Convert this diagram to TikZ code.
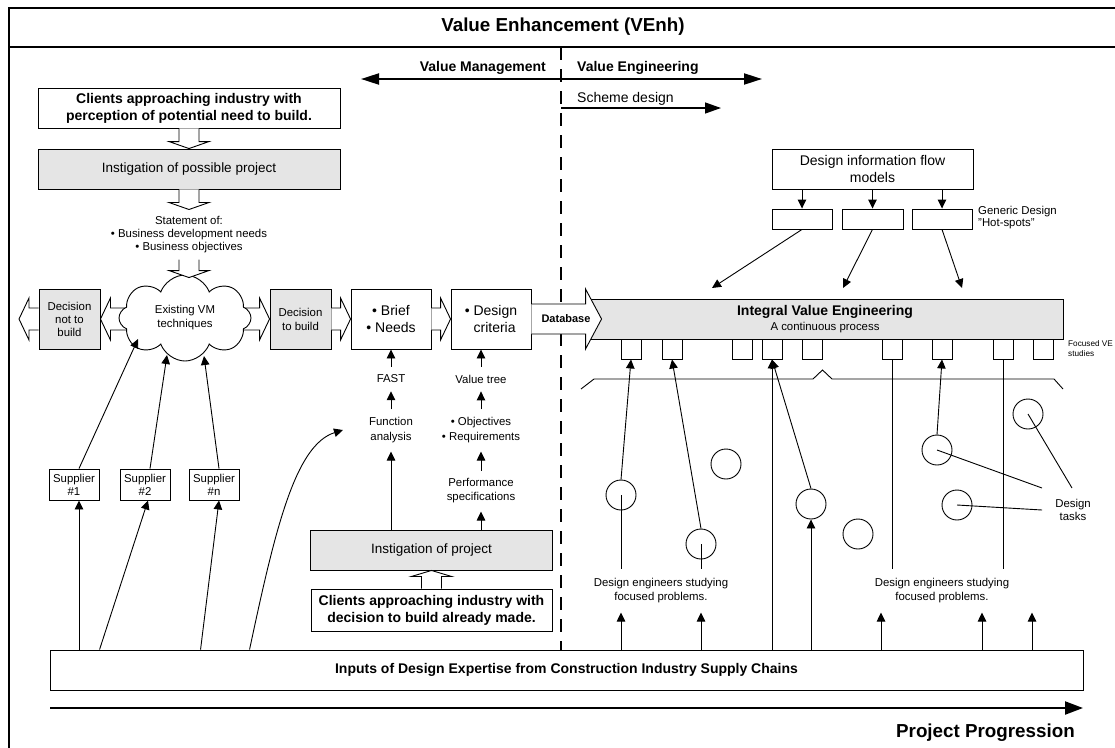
\documentclass[tikz,border=0pt]{standalone}
\usepackage{fontspec}
\setmainfont{Liberation Sans}
\usetikzlibrary{arrows.meta,positioning,calc,shapes.symbols,backgrounds}
\definecolor{boxgrey}{RGB}{229,229,229}
% hollow block arrows: #1 = start of shaft, #2 = tip
\newcommand{\blkdown}[2]{\draw[blk] ($(#1)+(-10,0)$) -- ($(#2)+(-10,-7)$) -- ($(#2)+(-20,-7)$) -- (#2) -- ($(#2)+(20,-7)$) -- ($(#2)+(10,-7)$) -- ($(#1)+(10,0)$);}
\newcommand{\blkup}[2]{\draw[blk] ($(#1)+(-10,0)$) -- ($(#2)+(-10,6)$) -- ($(#2)+(-20,6)$) -- (#2) -- ($(#2)+(20,6)$) -- ($(#2)+(10,6)$) -- ($(#1)+(10,0)$);}
\newcommand{\blkright}[2]{\draw[blk] ($(#1)+(0,-11)$) -- ($(#2)+(-10,-11)$) -- ($(#2)+(-10,-21)$) -- (#2) -- ($(#2)+(-10,21)$) -- ($(#2)+(-10,11)$) -- ($(#1)+(0,11)$);}
\newcommand{\blkleft}[2]{\draw[blk] ($(#1)+(0,-11)$) -- ($(#2)+(10,-11)$) -- ($(#2)+(10,-21)$) -- (#2) -- ($(#2)+(10,21)$) -- ($(#2)+(10,11)$) -- ($(#1)+(0,11)$);}

\begin{document}
\begin{tikzpicture}[x=1pt,y=-1pt,
  box/.style={draw,line width=0.9pt,inner sep=0pt,align=center},
  gbox/.style={box,fill=boxgrey},
  lab/.style={font=\fontsize{11.4}{13.5}\selectfont,align=center,inner sep=0pt},
  big/.style={font=\fontsize{14}{17}\selectfont},
  bbig/.style={font=\fontsize{14}{17}\selectfont\bfseries},
  blk/.style={draw,line width=0.9pt,fill=white,line join=miter},
  arr/.style={line width=0.9pt,-{Triangle[length=9pt,width=8.5pt]}},
  ln/.style={line width=0.9pt},
  task/.style={circle,draw,line width=0.9pt,minimum size=30pt,inner sep=0pt}]
\useasboundingbox (0,0) rectangle (1115,747);
\clip (0,0) rectangle (1115,747);

%% frame and title
\draw[line width=1.2pt] (9,760) -- (9,8) -- (1130,8);
\draw[line width=1.2pt] (9,47) -- (1130,47);
\node[font=\fontsize{18.8}{20}\selectfont\bfseries] (ttl) at (563,27) {Value Enhancement (VEnh)};

%% phases
\coordinate (divT) at (561,47);
\coordinate (divB) at (561,650);
\draw[line width=2pt,dash pattern=on 13pt off 9pt] (divT) -- (divB);
\coordinate (vmEnd) at (361,79);
\coordinate (veEnd) at (762,79);
\draw[line width=2pt,{Triangle[length=18pt,width=11pt]}-{Triangle[length=18pt,width=11pt]}] (vmEnd) -- (veEnd);
\node[bbig,inner sep=0pt,anchor=east] (vmlab) at (546,68) {Value Management};
\node[bbig,inner sep=0pt,anchor=west] (velab) at (577,68) {Value Engineering};
\coordinate (sdEnd) at (721,108);
\draw[line width=1.3pt,-{Triangle[length=16pt,width=11pt]}] (divT |- sdEnd) -- (sdEnd);
\node[big,inner sep=0pt,anchor=west] (sdlab) at (577,99) {Scheme design};

%% possible project
\node[box,bbig,minimum width=302,minimum height=40] (clientsA) at (189,108) {Clients approaching industry with\\perception of potential need to build.};
\node[gbox,font=\fontsize{13.5}{16}\selectfont,minimum width=302,minimum height=40] (instA) at (189,169) {Instigation of possible project};
\node[lab,font=\fontsize{11.4}{13}\selectfont] (stmt) at (189,235) {Statement of:\\\textbullet\ Business development needs\\\textbullet\ Business objectives};
\coordinate (stmtIn) at ($(stmt.north)+(0,-7)$);
\coordinate (stmtOut) at ($(stmt.south)+(0,6)$);
\blkdown{clientsA.south}{instA.north}
\blkdown{instA.south}{stmtIn}

%% decision row
\node[gbox,lab,font=\fontsize{11.4}{13}\selectfont,minimum width=61,minimum height=60] (notbuild) at (69.5,319) {Decision\\not to\\build};
\node[cloud,draw,fill=white,line width=0.9pt,cloud puffs=8,cloud puff arc=140,cloud ignores aspect,minimum width=132,minimum height=86,lab,font=\fontsize{11.4}{14}\selectfont] (vm) at (185,318) {Existing VM\\techniques};
\node[gbox,lab,font=\fontsize{11.4}{14}\selectfont,minimum width=61,minimum height=60] (build) at (300.5,319) {Decision\\to build};
\node[box,big,minimum width=80,minimum height=60] (brief) at (391,319) {\textbullet\ Brief\\\textbullet\ Needs};
\node[box,big,minimum width=80,minimum height=60,align=left] (crit) at (491,319) {\textbullet\ Design\\\phantom{\textbullet\ }criteria};
\coordinate (outL) at (19,319);
\coordinate (vmIn) at ($(stmtOut |- vm.north)+(0,3)$);
\blkleft{notbuild.west}{outL}
\begin{scope}[on background layer]
  \blkleft{vm.center |- notbuild.east}{notbuild.east}
  \blkright{vm.center |- build.west}{build.west}
\end{scope}
\blkright{build.east}{brief.west}
\blkright{brief.east}{crit.west}
\blkdown{stmtOut}{vmIn}

%% integral value engineering
\node[gbox,font=\fontsize{14}{15}\selectfont,minimum width=476,minimum height=40] (ive) at (825,319) {\textbf{Integral Value Engineering}\\{\fontsize{11.4}{15}\selectfont A continuous process}};
\coordinate (dbTip) at ($(ive.west)+(15,0)$);
\draw[blk] ($(crit.east)+(0,-15)$) -- ($(dbTip)+(-16,-15)$) -- ($(dbTip)+(-16,-30)$) -- (dbTip) -- ($(dbTip)+(-16,30)$) -- ($(dbTip)+(-16,15)$) -- ($(crit.east)+(0,15)$);
\node[font=\fontsize{11}{12}\selectfont\bfseries,inner sep=0pt] (dblab) at (566,319) {Database};

%% hot-spots
\node[box,big,minimum width=201,minimum height=40] (dif) at (872.5,169) {Design information flow\\models};
\node[box,minimum width=60,minimum height=20] (hs1) at (802,219) {};
\node[box,minimum width=61,minimum height=20] (hs2) at (872.5,219) {};
\node[box,minimum width=60,minimum height=20] (hs3) at (942,219) {};
\foreach \h in {hs1,hs2,hs3} \draw[arr] (dif.south -| \h.north) -- (\h.north);
\node[lab,anchor=west,align=left,font=\fontsize{11.4}{12}\selectfont] (hslab) at (978,218) {Generic Design\\"Hot-spots"};
\coordinate (hot1) at (712,288);
\coordinate (hot2) at (843,288);
\coordinate (hot3) at (962,288);
\draw[arr] (hs1.south) -- (hot1);
\draw[arr] (hs2.south) -- (hot2);
\draw[arr] (hs3.south) -- (hot3);

%% focused studies
\foreach \i/\x in {1/631,2/672,3/742,4/772,5/812,6/892.5,7/942,8/1003,9/1043}
  \node[box,minimum width=20,minimum height=20] (fs\i) at (\x,349) {};
\node[lab,anchor=west,align=left,font=\fontsize{8.2}{10}\selectfont] (fslab) at (1068,349) {Focused VE\\studies};
\draw[ln] (581,389) -- (594,379) -- (813,379) -- (822.5,370) -- (832,379) -- (1054,379) -- (1063,389);

%% design tasks
\foreach \n/\x/\y in {1/621/495,2/701/544,3/726/464,4/811/504,5/858/534,6/937/450,7/957/505,8/1028/414}
  \node[task] (c\n) at (\x,\y) {};
\node[lab,inner ysep=9pt,font=\fontsize{11.4}{14}\selectfont] (deA) at (661,591) {Design engineers studying\\focused problems.};
\node[lab,inner ysep=9pt,font=\fontsize{11.4}{14}\selectfont] (deB) at (942,591) {Design engineers studying\\focused problems.};
\node[lab,font=\fontsize{11.4}{13}\selectfont] (dt) at (1073,510) {Design\\tasks};

%% inputs and progression
\node[box,bbig,minimum width=1033,minimum height=40] (inp) at (566.5,670) {Inputs of Design Expertise from Construction Industry Supply Chains};
\coordinate (ppS) at (50,708);
\coordinate (ppE) at (1083,708);
\draw[line width=2.2pt,-{Triangle[length=18pt,width=13pt]}] (ppS) -- (ppE);
\node[font=\fontsize{18.8}{20}\selectfont\bfseries,inner sep=0pt,anchor=east] (pplab) at (1075,733) {Project Progression};

\draw[arr] (c1.north) -- (fs1.south);
\draw[arr] (c2.north) -- (fs2.south);
\draw[arr] (c4.north) -- (fs4.south);
\draw[arr] (c6.north) -- (fs7.south);
\draw[ln] (c1.center) -- (c1.center |- deA.north);
\draw[ln] (c2.center) -- (c2.center |- deA.north);
\draw[ln] (fs6.south) -- (fs6.south |- deB.north);
\draw[ln] (fs8.south) -- (fs8.south |- deB.north);
\draw[arr] (fs4.south |- inp.north) -- (fs4.south);
\draw[arr] (c4.south |- inp.north) -- (c4.south);
\draw[arr] (c1.center |- inp.north) -- (c1.center |- deA.south);
\draw[arr] (c2.center |- inp.north) -- (c2.center |- deA.south);
\foreach \x in {881,982,1032} {
  \coordinate (up) at (\x,0);
  \draw[arr] (up |- inp.north) -- (up |- deB.south);
}
\coordinate (dt1) at (1042,488);
\coordinate (dt2) at (1042,510);
\coordinate (dt3) at (1072,488);
\draw[ln] (c6.center) -- (dt1);
\draw[ln] (c7.center) -- (dt2);
\draw[ln] (c8.center) -- (dt3);

%% project instigated
\node[lab,inner ysep=8pt] (fast) at (391,379) {FAST};
\node[lab,inner ysep=8pt,font=\fontsize{11.4}{15}\selectfont] (fa) at (391,430.5) {Function\\analysis};
\node[lab,inner ysep=8pt] (vt) at (481,379) {Value tree};
\node[lab,inner ysep=8pt,font=\fontsize{11.4}{15}\selectfont] (obj) at (481,430.5) {\textbullet\ Objectives\\\textbullet\ Requirements};
\node[lab,inner ysep=8pt,font=\fontsize{11.4}{14}\selectfont] (perf) at (481,491) {Performance\\specifications};
\node[gbox,font=\fontsize{13.5}{16}\selectfont,minimum width=242,minimum height=40] (instB) at (431.5,550) {Instigation of project};
\node[box,bbig,minimum width=241,minimum height=42] (clientsB) at (431.5,610) {Clients approaching industry with\\decision to build already made.};
\blkup{clientsB.north}{instB.south}
\draw[arr] (fast.north) -- (fast.north |- brief.south);
\draw[arr] (fa.north) -- (fast.south);
\draw[arr] (vt.north) -- (vt.north |- crit.south);
\draw[arr] (obj.north) -- (vt.south);
\draw[arr] (perf.north) -- (obj.south);
\draw[arr] (fa.south |- instB.north) -- (fa.south);
\draw[arr] (perf.south |- instB.north) -- (perf.south);

%% suppliers
\node[box,lab,font=\fontsize{11.4}{13}\selectfont,minimum width=50,minimum height=31] (s1) at (74,484.5) {Supplier\\\#1};
\node[box,lab,font=\fontsize{11.4}{13}\selectfont,minimum width=50,minimum height=31] (s2) at (145,484.5) {Supplier\\\#2};
\node[box,lab,font=\fontsize{11.4}{13}\selectfont,minimum width=50,minimum height=31] (sn) at (214,484.5) {Supplier\\\#n};
\coordinate (vm1) at (138,339);
\coordinate (vm2) at (167,355);
\coordinate (vm3) at (204,356);
\draw[arr] ($(s1.north)+(5,0)$) -- (vm1);
\draw[arr] ($(s2.north)+(5,0)$) -- (vm2);
\draw[arr] ($(sn.north)+(5,0)$) -- (vm3);
\coordinate (s1b) at ($(s1.south)+(5,0)$);
\draw[arr] (s1b |- inp.north) -- (s1b);
\draw[arr] ($(inp.north west)+(50,0)$) -- ($(s2.south)+(3,0)$);
\draw[arr] ($(inp.north west)+(151,0)$) -- ($(sn.south)+(5,0)$);
\coordinate (faIn) at (343,430);
\draw[arr] ($(inp.north west)+(200,0)$) .. controls (275,530) and (295,445) .. (faIn);
\end{tikzpicture}
\end{document}
